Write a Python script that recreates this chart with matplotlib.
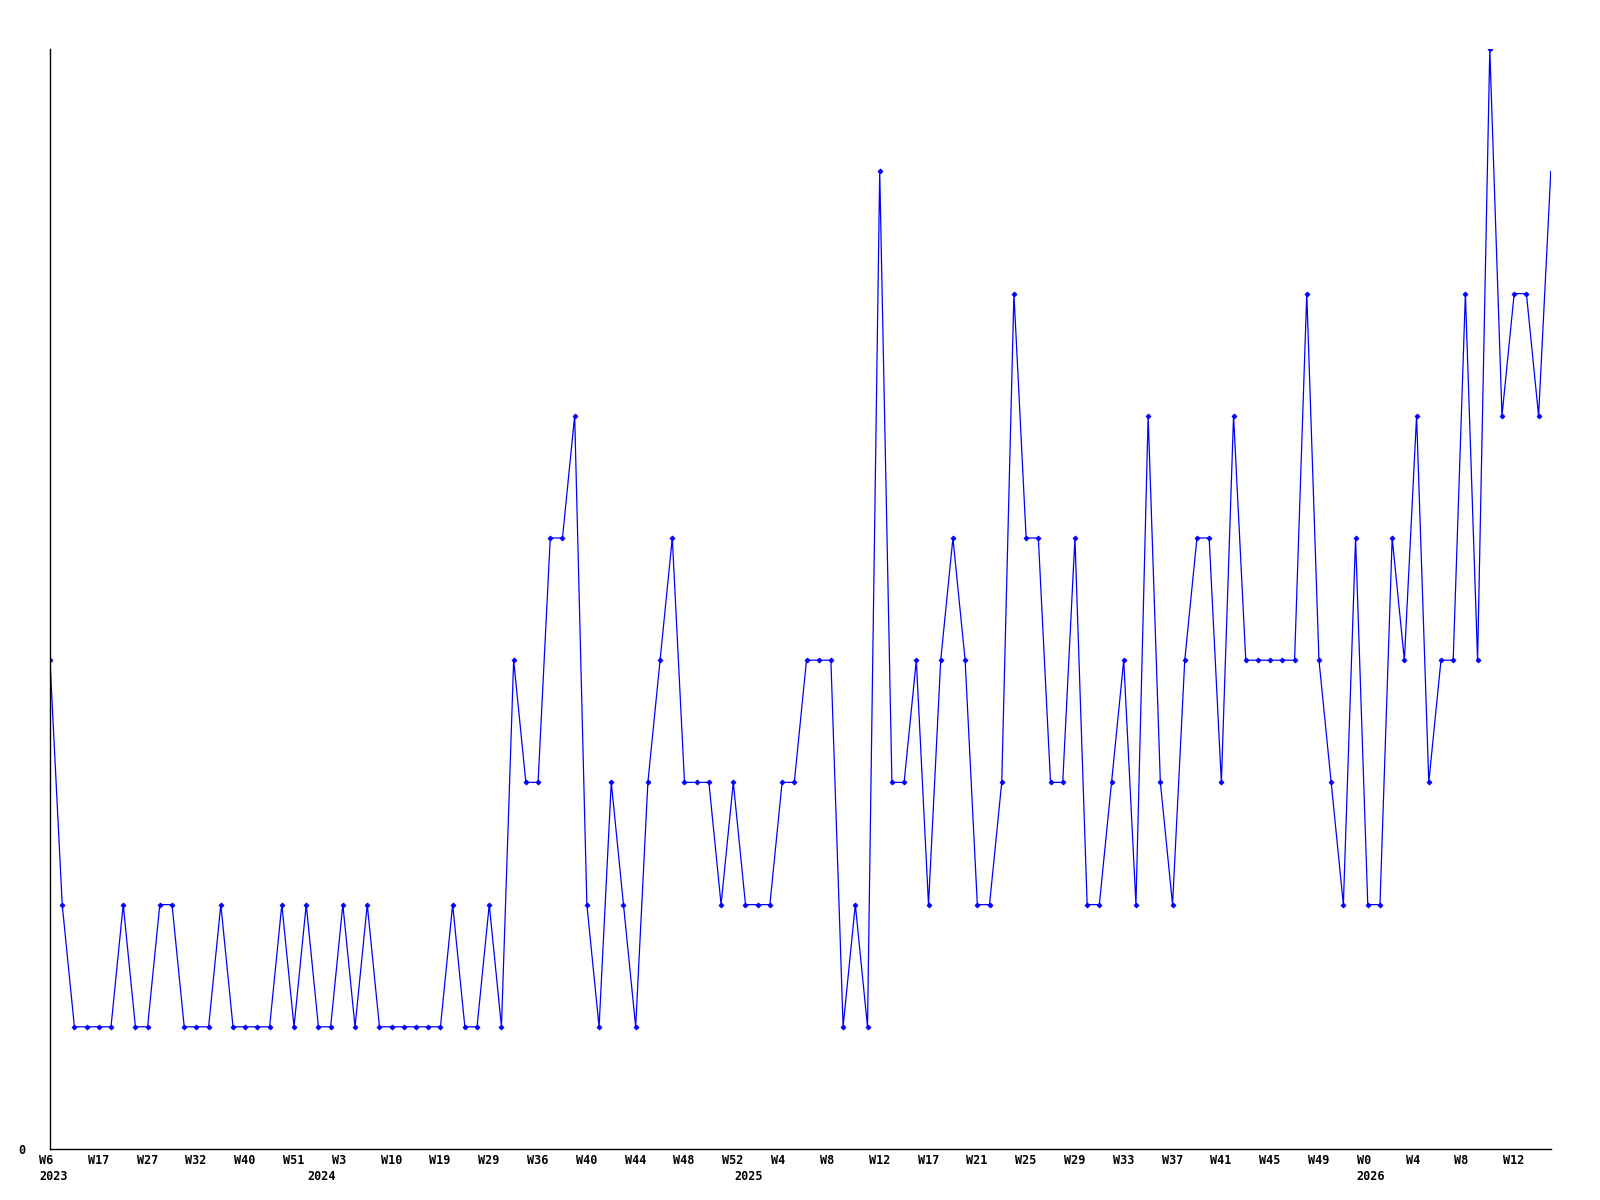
import matplotlib
matplotlib.use("Agg")
import matplotlib.pyplot as plt
from matplotlib import transforms

# weekly counts, one point per reported week
values = [
    4, 2, 1, 1, 1, 1, 2, 1, 1, 2, 2, 1, 1, 1, 2, 1, 1, 1, 1, 2,
    1, 2, 1, 1, 2, 1, 2, 1, 1, 1, 1, 1, 1, 2, 1, 1, 2, 1, 4, 3,
    3, 5, 5, 6, 2, 1, 3, 2, 1, 3, 4, 5, 3, 3, 3, 2, 3, 2, 2, 2,
    3, 3, 4, 4, 4, 1, 2, 1, 8, 3, 3, 4, 2, 4, 5, 4, 2, 2, 3, 7,
    5, 5, 3, 3, 5, 2, 2, 3, 4, 2, 6, 3, 2, 4, 5, 5, 3, 6, 4, 4,
    4, 4, 4, 7, 4, 3, 2, 5, 2, 2, 5, 4, 6, 3, 4, 4, 7, 4, 9, 6,
    7, 7, 6, 8,
]

week_ticks = list(range(0, 121, 4))
week_labels = [
    "W6", "W17", "W27", "W32", "W40", "W51", "W3", "W10", "W19", "W29",
    "W36", "W40", "W44", "W48", "W52", "W4", "W8", "W12", "W17", "W21",
    "W25", "W29", "W33", "W37", "W41", "W45", "W49", "W0", "W4", "W8",
    "W12",
]
year_ticks = [0, 22, 57, 108]
year_labels = ["2023", "2024", "2025", "2026"]

fig = plt.figure(figsize=(16, 12), dpi=100)
ax = fig.add_axes([0.03125, 0.0425, 0.938, 0.9165])

x = list(range(len(values)))
# the last (current) week is drawn without a marker
ax.plot(x, values, color="#0000ff", linewidth=0.9,
        marker="D", markersize=2.6, markeredgewidth=0.5,
        markevery=list(range(len(values) - 1)))

ax.set_xlim(0, len(values) - 1)
ax.set_ylim(0, max(values))
ax.set_xticks([])
ax.set_yticks([])
for s in ["top", "right"]:
    ax.spines[s].set_visible(False)
for s in ["left", "bottom"]:
    ax.spines[s].set_linewidth(1.0)
    ax.spines[s].set_color("black")

font = dict(family="DejaVu Sans Mono", weight="bold", fontsize=8.5)
blend = transforms.blended_transform_factory(ax.transData, ax.transAxes)
wk_tr = transforms.offset_copy(blend, fig=fig, x=-11, y=-12, units="dots")
yr_tr = transforms.offset_copy(blend, fig=fig, x=-11, y=-28, units="dots")

for pos, lab in zip(week_ticks, week_labels):
    ax.text(pos, 0, lab, transform=wk_tr, ha="left", va="center", **font)
for pos, lab in zip(year_ticks, year_labels):
    ax.text(pos, 0, lab, transform=yr_tr, ha="left", va="center", **font)

fig.text(18 / 1600, 1 - 1151 / 1200, "0", ha="left", va="center", **font)

fig.savefig("out.png", dpi=100, facecolor="white")
